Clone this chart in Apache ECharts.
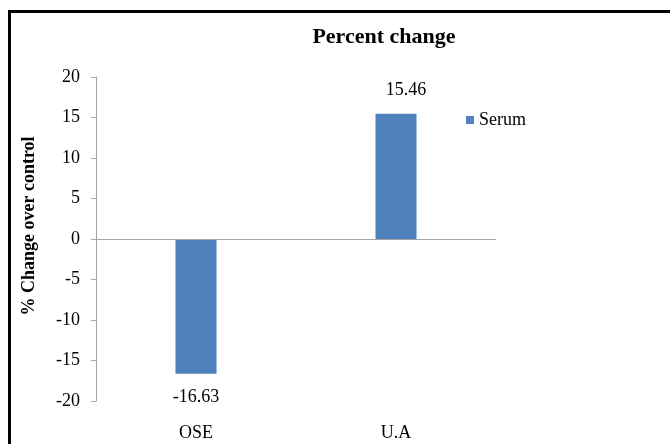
<!DOCTYPE html>
<html>
<head>
<meta charset="utf-8">
<script src="https://cdn.jsdelivr.net/npm/echarts@6/dist/echarts.min.js"></script>
<style>
  html, body { margin: 0; padding: 0; background: #fff; }
  #chart { width: 670px; height: 444px; }
</style>
</head>
<body>
<div id="chart"></div>
<script>
// Percent change over control, serum
const categories = ['OSE', 'U.A'];
const serumValues = [-16.63, 15.46];
const yTicks = { min: -20, max: 20, interval: 5 };

const serif = 'Liberation Serif';

const chart = echarts.init(document.getElementById('chart'), null, { renderer: 'canvas' });

chart.setOption({
  backgroundColor: '#ffffff',
  animation: false,
  textStyle: { fontFamily: serif },
  graphic: [{
    type: 'rect',
    shape: { x: 9.5, y: 11.5, width: 720, height: 500 },
    style: { fill: 'none', stroke: '#000', lineWidth: 3 },
    silent: true
  }],
  title: {
    text: 'Percent change',
    left: 379,
    top: 21,
    textAlign: 'center',
    textStyle: { fontFamily: serif, fontSize: 22, fontWeight: 'bold', color: '#000' }
  },
  legend: {
    data: ['Serum'],
    left: 466,
    top: 111,
    padding: 0,
    itemWidth: 8,
    itemHeight: 8,
    icon: 'rect',
    textStyle: { fontFamily: serif, fontSize: 18, color: '#000' }
  },
  grid: { left: 96, right: 174, top: 77, bottom: 43 },
  xAxis: {
    type: 'category',
    data: categories,
    axisLine: { show: false, onZero: false },
    axisTick: { show: false },
    axisLabel: { margin: 23, fontFamily: serif, fontSize: 18, color: '#000' }
  },
  yAxis: {
    type: 'value',
    min: yTicks.min,
    max: yTicks.max,
    interval: yTicks.interval,
    name: '% Change over control',
    nameLocation: 'middle',
    nameGap: 58,
    nameTextStyle: { fontFamily: serif, fontSize: 18, fontWeight: 'bold', color: '#000', padding: [0, 0, 0, 26] },
    axisLine: { show: true, lineStyle: { color: '#a6a6a6', width: 1 } },
    axisTick: { show: true, length: 5, lineStyle: { color: '#a6a6a6' } },
    axisLabel: { margin: 16, fontFamily: serif, fontSize: 18, color: '#000' },
    splitLine: { show: false }
  },
  series: [{
    name: 'Serum',
    type: 'bar',
    barWidth: 41,
    itemStyle: { color: '#4f81bd' },
    data: serumValues.map(v => ({
      value: v,
      label: v < 0 ? { position: 'bottom' } : { position: 'top', offset: [10, 0] }
    })),
    label: {
      show: true,
      distance: 15,
      fontFamily: serif,
      fontSize: 18,
      color: '#000',
      formatter: p => p.value.toFixed(2)
    },
    markLine: {
      silent: true,
      symbol: 'none',
      label: { show: false },
      lineStyle: { color: '#a6a6a6', width: 1, type: 'solid' },
      data: [{ yAxis: 0 }]
    }
  }]
});
</script>
</body>
</html>
